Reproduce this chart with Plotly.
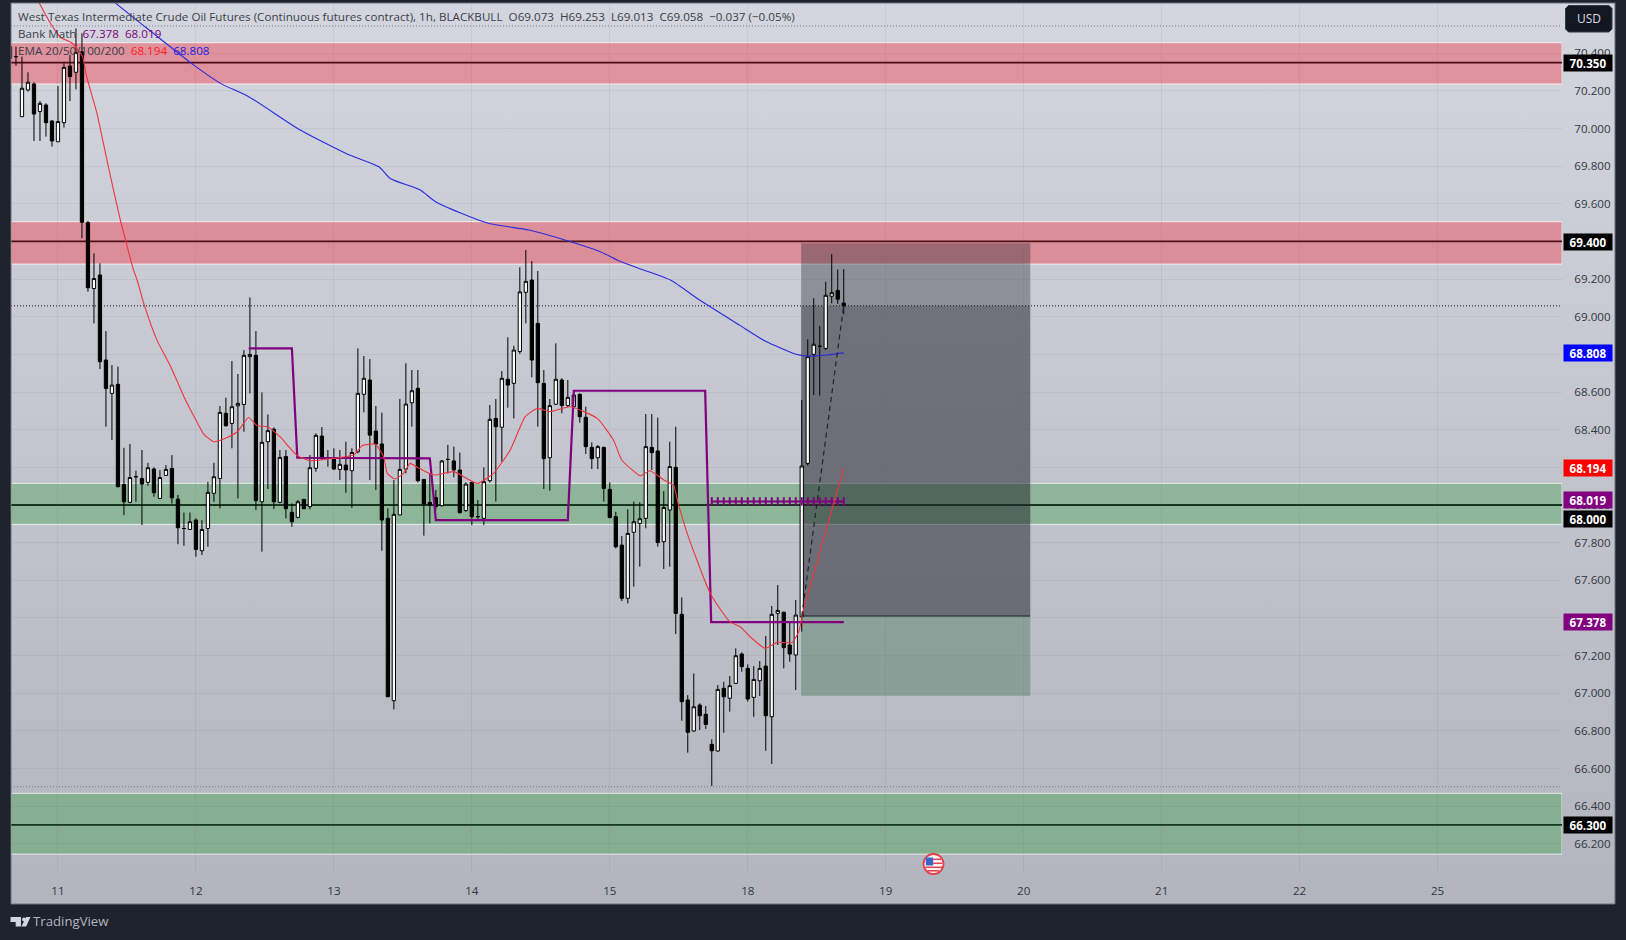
import plotly.graph_objects as go

# ---------- data ----------
first_bar = -8
opens = [70.435,70.382,70.063,70.205,70.237,70.09,70.125,70.04,69.93,70.031,
70.332,70.299,70.408,69.5,69.15,69.222,68.77,68.593,68.641,68.109,
68.014,68.15,68.141,68.12,68.191,68.035,68.157,68.194,68.031,67.875,
67.87,67.92,67.757,67.875,68.062,68.141,68.487,68.433,68.527,68.534,
68.788,68.795,68.017,68.336,68.403,68.014,68.257,67.961,67.934,68.03,
67.991,68.195,68.366,68.248,68.248,68.189,68.212,68.182,68.283,68.588,
68.664,68.393,68.324,67.929,66.96,67.947,68.191,68.543,68.62,68.136,
68.014,68.039,67.996,68.242,68.234,68.186,67.97,68.12,67.938,67.929,
68.129,68.46,68.413,68.668,68.646,68.815,69.13,69.195,68.965,68.646,
68.251,68.535,68.664,68.528,68.522,68.588,68.466,68.306,68.251,68.306,
68.083,67.938,67.787,67.504,67.855,67.902,67.929,68.306,68.287,67.805,
67.973,68.2,67.419,66.964,66.799,66.937,66.888,66.728,66.693,67.026,
66.973,67.052,67.208,67.132,66.978,67.066,67.144,66.875,67.424,67.43,
67.256,67.203,67.406,68.221,68.8,68.843,68.832,69.109,69.14,69.073]
highs = [70.45,70.435,70.382,70.299,70.246,70.146,70.134,70.045,70.226,70.346,
70.391,70.532,70.506,69.509,69.337,69.284,68.924,68.743,68.735,68.304,
68.324,68.182,68.292,68.224,68.2,68.185,68.212,68.265,68.053,67.96,
67.96,67.929,67.92,68.123,68.224,68.526,68.57,68.765,68.696,68.823,
69.103,68.924,68.598,68.481,68.412,68.292,68.292,68.008,68.026,68.03,
68.265,68.38,68.414,68.292,68.301,68.292,68.336,68.301,68.832,68.791,
68.775,68.526,68.49,67.982,68.133,68.563,68.753,68.717,68.717,68.136,
68.168,68.08,68.239,68.319,68.31,68.279,68.12,68.124,68.026,68.2,
68.531,68.563,68.712,68.891,68.846,69.263,69.355,69.296,69.243,68.717,
68.563,68.859,68.673,68.664,68.593,68.593,68.522,68.333,68.319,68.31,
68.12,67.964,67.835,67.977,68.018,68.014,68.483,68.483,68.464,68.074,
68.336,68.416,67.509,66.99,67.105,66.946,66.932,66.755,67.043,67.061,
67.091,67.238,67.217,67.153,67.144,67.171,67.304,67.463,67.575,67.433,
67.38,67.495,68.558,68.88,69.098,68.951,69.186,69.333,69.252,69.253]
lows = [70.36,70.334,70.063,70.196,69.934,69.934,69.957,69.904,69.93,70.005,
70.146,70.208,69.417,69.133,68.965,68.722,68.416,68.345,68.093,67.946,
68.009,68.017,67.893,68.102,68.044,68.032,68.154,68.008,67.791,67.783,
67.867,67.725,67.734,67.778,68.017,67.982,68.416,68.301,68.035,68.389,
68.593,67.973,67.752,68.085,67.979,68.009,67.929,67.884,67.929,67.98,
67.977,68.177,68.239,68.203,68.186,68.133,68.065,67.985,68.274,68.492,
68.133,68.079,67.757,66.981,66.914,67.947,68.168,68.416,68.12,67.837,
67.902,67.973,67.991,68.168,68.147,67.955,67.964,67.893,67.92,67.893,
68.119,68.018,68.23,68.517,68.46,68.802,68.965,68.678,68.416,68.085,
68.076,68.531,68.487,68.522,68.513,68.437,68.271,68.191,68.191,68.018,
67.929,67.769,67.49,67.477,67.566,67.672,67.876,68.186,67.778,67.66,
67.672,67.314,66.854,66.684,66.795,66.804,66.81,66.507,66.689,66.79,
66.902,67.049,67.114,66.955,66.875,66.985,66.694,66.624,67.256,67.132,
67.167,67.017,67.327,68.21,68.584,68.581,68.823,69.071,69.068,69.013]
closes = [70.373,70.382,70.214,70.246,70.077,70.134,70.031,69.934,70.037,70.325,
70.276,70.405,69.502,69.154,69.203,68.761,68.619,68.637,68.097,68.017,
68.146,68.15,68.111,68.198,68.065,68.146,68.189,68.038,67.879,67.875,
67.911,67.764,67.87,68.067,68.15,68.492,68.421,68.522,68.54,68.795,
68.8,68.023,68.333,68.395,68.017,68.253,67.98,67.911,68.017,67.98,
68.198,68.37,68.248,68.248,68.191,68.216,68.186,68.279,68.593,68.673,
68.371,68.324,67.92,66.981,67.95,68.189,68.536,68.607,68.129,68.005,
68.0,67.991,68.234,68.242,68.186,67.959,68.111,67.938,67.938,68.124,
68.455,68.416,68.673,68.637,68.823,69.132,69.188,68.77,68.65,68.246,
68.528,68.668,68.528,68.572,68.584,68.469,68.31,68.246,68.31,68.088,
67.934,67.778,67.504,67.849,67.911,67.927,68.31,68.278,67.8,67.987,
68.204,67.424,66.955,66.792,66.928,66.88,66.834,66.694,67.02,66.981,
67.04,67.199,67.141,66.969,67.073,67.132,66.88,67.419,67.44,67.242,
67.208,67.415,68.207,68.788,68.854,68.843,69.114,69.128,69.093,69.058]

ema_red_x = [-3.4,-1.25,0.4,2.4,4.1,4.7,6.5,8.4,10.4,11.4,12.6,13.2,14.3,16.5,18.8,21,23,24.3,26,28.2,29.9,31.8,33.2,34.9,37,39.8,42,46,49.3,50.7,52.9,54.3,54.9,56.2,57.6,58.7,59.9,62.6,66,69.9,72.6,75.4,77.9,79.9,82,85.4,89.9,92.6,94,97.1,98.7,101,102.6,103.4,104.9,108.75,112,113.75,115.4,117.9,119.9,122.4,123.5,124.3,131]
ema_red_y = [70.683,70.559,70.485,70.453,70.382,70.285,70.081,69.797,69.514,69.39,69.248,69.195,69.071,68.876,68.735,68.575,68.451,68.377,68.336,68.359,68.389,68.465,68.421,68.416,68.363,68.265,68.235,68.248,68.265,68.315,68.322,68.256,68.168,68.138,68.168,68.221,68.2,68.159,68.177,68.115,68.168,68.292,68.469,68.513,68.496,68.522,68.46,68.345,68.239,68.156,68.182,68.133,68.106,68.009,67.849,67.53,67.38,67.353,67.3,67.238,67.27,67.27,67.327,67.442,68.194]
ema_blue_x = [9.3,13.8,22.6,27.1,31.8,40.4,48.2,53.5,55.4,60.4,63,71.6,78.5,84.9,90.4,93.8,97.1,102.1,107.1,113.75,117.9,122.9,124.9,128.2,131]
ema_blue_y = [70.674,70.559,70.338,70.24,70.169,69.992,69.865,69.797,69.735,69.673,69.61,69.498,69.461,69.404,69.346,69.293,69.254,69.195,69.086,68.953,68.871,68.802,68.791,68.797,68.808]
bank_x = [31.8,39,39.9,62,63,85,86,107.9,108.9,131]
bank_y = [68.832,68.832,68.251,68.248,67.92,67.92,68.607,68.607,67.378,67.378]
bank2_x = [109,110,111,112,113,114,115,116,117,118,119,120,121,122,123,124,125,126,127,128,129,130,131]
bank2_y = [68.019]*len(bank2_x)
path_x = [124,131]
path_y = [67.41,69.06]

price_ticks = [66.2,66.4,66.6,66.8,67.0,67.2,67.4,67.6,67.8,68.0,68.2,68.4,68.6,68.8,69.0,69.2,69.4,69.6,69.8,70.0,70.2,70.4]
day_ticks = [0,23,46,69,92,115,138,161,184,207,230]
day_labels = ["11","12","13","14","15","18","19","20","21","22","25"]

red_zones = [(70.237,70.456,70.35),(69.28,69.505,69.40)]
green_zones = [(67.897,68.115,68.00),(66.145,66.468,66.30)]
tool_x = (123.9,162.1)
tool_top, tool_now, tool_entry, tool_target = 69.39,69.058,67.41,66.987
last_price = 69.058
session_high, session_low = 70.545,66.503

tag_values = [70.35,69.40,68.808,68.194,68.019,68.0,67.378,66.30]
tag_colors = ["#000000","#000000","#0000ff","#ff0000","#800080","#000000","#800080","#000000"]
tag_shift = [0,-1,0,0,1,-14,0,0]

title_text = "West Texas Intermediate Crude Oil Futures (Continuous futures contract), 1h, BLACKBULL  O69.073  H69.253  L69.013  C69.058  −0.037 (−0.05%)"
FONT = "Open Sans"
PURPLE = "#800080"
BG_DARK = "#1e222d"

# ---------- layout geometry ----------
W, H = 1626, 940
FL, FR, FT, FB = 10.5, 1615, 3, 904   # frame
PR, PB = 1562, 872                    # right / bottom of price pane
x_range = [-7.83, 250.75]
y_range = [66.05, 70.667]

def fx(p): return (p-FL)/(FR-FL)
def fy(p): return 1-(p-FT)/(FB-FT)
def pth(points):
    return "M"+" L".join(f"{fx(a):.5f},{fy(b):.5f}" for a,b in points)+" Z"

fig = go.Figure()
# background gradient over the whole frame
fig.add_trace(go.Scatter(x=[0,1,1,0,0], y=[0,0,1,1,0], mode="none", fill="toself",
    fillgradient=dict(type="vertical", colorscale=[[0,"#b2b5be"],[1,"#d3d6de"]]),
    hoverinfo="skip", showlegend=False, xaxis="x", yaxis="y"))

fig.add_trace(go.Scatter(x=ema_blue_x, y=ema_blue_y, mode="lines", line=dict(color="#2a2ae0", width=1.1, shape="spline", smoothing=0.6), xaxis="x2", yaxis="y2", showlegend=False))
fig.add_trace(go.Scatter(x=bank_x, y=bank_y, mode="lines", line=dict(color=PURPLE, width=2.2), xaxis="x2", yaxis="y2", showlegend=False))
fig.add_trace(go.Scatter(x=bank2_x, y=bank2_y, mode="lines+markers", line=dict(color=PURPLE, width=2),
    marker=dict(symbol="line-ns", size=6, line=dict(color=PURPLE, width=2)), xaxis="x2", yaxis="y2", showlegend=False))
fig.add_trace(go.Scatter(x=ema_red_x, y=ema_red_y, mode="lines", line=dict(color="#f0343c", width=1.1, shape="spline", smoothing=0.5), xaxis="x2", yaxis="y2", showlegend=False))
fig.add_trace(go.Scatter(x=path_x, y=path_y, mode="lines", line=dict(color="#20232c", width=1.2, dash="5px,4px"), xaxis="x2", yaxis="y2", showlegend=False))
fig.add_trace(go.Candlestick(x=list(range(first_bar, first_bar+len(opens))), open=opens, high=highs, low=lows, close=closes,
    increasing=dict(line=dict(color="#000000", width=1), fillcolor="#ffffff"),
    decreasing=dict(line=dict(color="#000000", width=1), fillcolor="#000000"),
    whiskerwidth=0, xaxis="x2", yaxis="y2", showlegend=False, hoverinfo="skip"))

shapes = []
def rect(y0, y1, fill, x0=None, x1=None, line=None):
    shapes.append(dict(type="rect", xref="x2", yref="y2", layer="below",
        x0=x_range[0] if x0 is None else x0, x1=x_range[1] if x1 is None else x1, y0=y0, y1=y1,
        fillcolor=fill, line=line or dict(width=0)))
def hline(y, color, width=1.5, dash="solid", x0=None, x1=None):
    shapes.append(dict(type="line", xref="x2", yref="y2", layer="below",
        x0=x_range[0] if x0 is None else x0, x1=x_range[1] if x1 is None else x1, y0=y, y1=y,
        line=dict(color=color, width=width, dash=dash)))

for lo, hi, mid in red_zones:
    rect(lo, hi, "rgba(242,54,69,0.42)", line=dict(color="rgba(255,255,255,0.75)", width=1))
    hline(mid, "#4e0c14", 1.8)
for lo, hi, mid in green_zones:
    rect(lo, hi, "rgba(64,160,76,0.40)", line=dict(color="rgba(255,255,255,0.75)", width=1))
    hline(mid, "#133619", 1.8)
rect(tool_now, tool_top, "rgba(35,38,48,0.36)", tool_x[0], tool_x[1])
rect(tool_entry, tool_now, "rgba(30,32,42,0.52)", tool_x[0], tool_x[1])
rect(tool_target, tool_entry, "rgba(50,105,70,0.36)", tool_x[0], tool_x[1])
hline(tool_entry, "#1c2024", 1, x0=tool_x[0], x1=tool_x[1])
hline(last_price, "#111111", 1, "1px,2px")
hline(session_high, "#777a85", 1, "1px,2px")
hline(session_low, "#777a85", 1, "1px,2px")

def pshape(**kw):
    shapes.append(dict(xref="paper", yref="paper", layer="above", **kw))

# frame
pshape(type="rect", x0=0, x1=1, y0=0, y1=1, line=dict(color="#6e717c", width=1))
# USD button
ux0, ux1, uy0, uy1 = 1565.5, 1612, 5.5, 32
pshape(type="path", path="M"+f"{fx(ux0+3):.5f},{fy(uy0):.5f} L{fx(ux1-3):.5f},{fy(uy0):.5f} L{fx(ux1):.5f},{fy(uy0+3):.5f} L{fx(ux1):.5f},{fy(uy1-3):.5f} L{fx(ux1-3):.5f},{fy(uy1):.5f} L{fx(ux0+3):.5f},{fy(uy1):.5f} L{fx(ux0):.5f},{fy(uy1-3):.5f} L{fx(ux0):.5f},{fy(uy0+3):.5f} Z",
       fillcolor="#131722", line=dict(color="#363a45", width=1))
# TradingView logo
logo = "#d1d4dc"
pshape(type="path", path=pth([(10,917),(20.5,917),(20.5,926.5),(15.2,926.5),(15.2,921.9),(10,921.9)]), fillcolor=logo, line=dict(width=0))
pshape(type="circle", x0=fx(21.6), x1=fx(25.4), y0=fy(921.3), y1=fy(917.5), fillcolor=logo, line=dict(width=0))
pshape(type="path", path=pth([(25.6,917),(30,917),(25.7,926.5),(20.9,926.5)]), fillcolor=logo, line=dict(width=0))
# US flag event marker
cx, cy = 933.3, 864
pshape(type="circle", x0=fx(cx-10), x1=fx(cx+10), y0=fy(cy+10), y1=fy(cy-10), fillcolor="#ffffff", line=dict(color="#e5404e", width=1.8))
for yy, xa, xb in [(858.5,933,941),(862.5,933,942),(866.5,925,942),(870,927,939)]:
    pshape(type="rect", x0=fx(xa), x1=fx(xb), y0=fy(yy+1.6), y1=fy(yy), fillcolor="#e5404e", line=dict(width=0))
pshape(type="rect", x0=fx(925.5), x1=fx(933), y0=fy(865.5), y1=fy(857.5), fillcolor="#3a63c8", line=dict(width=0))

annotations = []
def note(text, px_x, px_y, size=12, color="#2a2e39", xanchor="left", **kw):
    annotations.append(dict(text=text, x=fx(px_x), y=fy(px_y), xref="paper", yref="paper", xanchor=xanchor, yanchor="middle",
        showarrow=False, align="left", font=dict(family=FONT, size=size, color=color), **kw))

note(title_text, 15.5, 17, 11.65, "#3a3e49")
note(f'Bank Math  <span style="color:{PURPLE}">67.378</span>  <span style="color:{PURPLE}">68.019</span>', 15.5, 34, 11.65, "#3a3e49")
note('EMA 20/50/100/200  <span style="color:#ff2020">68.194</span>  <span style="color:#2020e0">68.808</span>', 15.5, 51, 11.65, "#3a3e49")
note("USD", 1588.75, 19, 12, "#d9dbe2", xanchor="center")
note("TradingView", 31, 921, 13.2, "#b2b5be")

for v, c, s in zip(tag_values, tag_colors, tag_shift):
    annotations.append(dict(text=f"<b>{v:.3f}</b>", x=fx(1587.5), xref="paper", y=v, yref="y2", xanchor="center", yanchor="middle",
        yshift=s, showarrow=False, bgcolor=c, width=48, height=16, borderpad=0, align="center",
        font=dict(family=FONT, size=11.6, color="#ffffff")))

axis_font = dict(family=FONT, size=11.6, color="#33363f")
grid = "rgba(90,94,108,0.09)"
fig.update_layout(
    width=W, height=H,
    margin=dict(l=FL, r=W-FR, t=FT, b=H-FB, pad=0, autoexpand=False),
    paper_bgcolor=BG_DARK, plot_bgcolor="rgba(0,0,0,0)", boxgap=0.22,
    showlegend=False, hovermode=False, shapes=shapes, annotations=annotations,
    xaxis=dict(domain=[0,1], range=[0,1], visible=False, fixedrange=True, anchor="y"),
    yaxis=dict(domain=[0,1], range=[0,1], visible=False, fixedrange=True, anchor="x"),
    xaxis2=dict(domain=[0,fx(PR)], range=x_range, anchor="y2", tickmode="array", tickvals=day_ticks, ticktext=day_labels,
        ticks="outside", ticklen=8, tickcolor="rgba(0,0,0,0)", tickfont=axis_font, showgrid=True, gridcolor=grid, gridwidth=1,
        showline=False, zeroline=False, rangeslider=dict(visible=False), fixedrange=True),
    yaxis2=dict(domain=[fy(PB),1], range=y_range, anchor="x2", side="right", tickmode="array", tickvals=price_ticks,
        ticktext=[f"{t:.3f}" for t in price_ticks], ticks="outside", ticklen=9, tickcolor="rgba(0,0,0,0)", tickfont=axis_font,
        showgrid=True, gridcolor=grid, gridwidth=1, showline=False, zeroline=False, fixedrange=True),
)
fig.write_html("out.html", post_script="document.body.style.margin='0';document.body.style.overflow='hidden';", config=dict(displayModeBar=False))
